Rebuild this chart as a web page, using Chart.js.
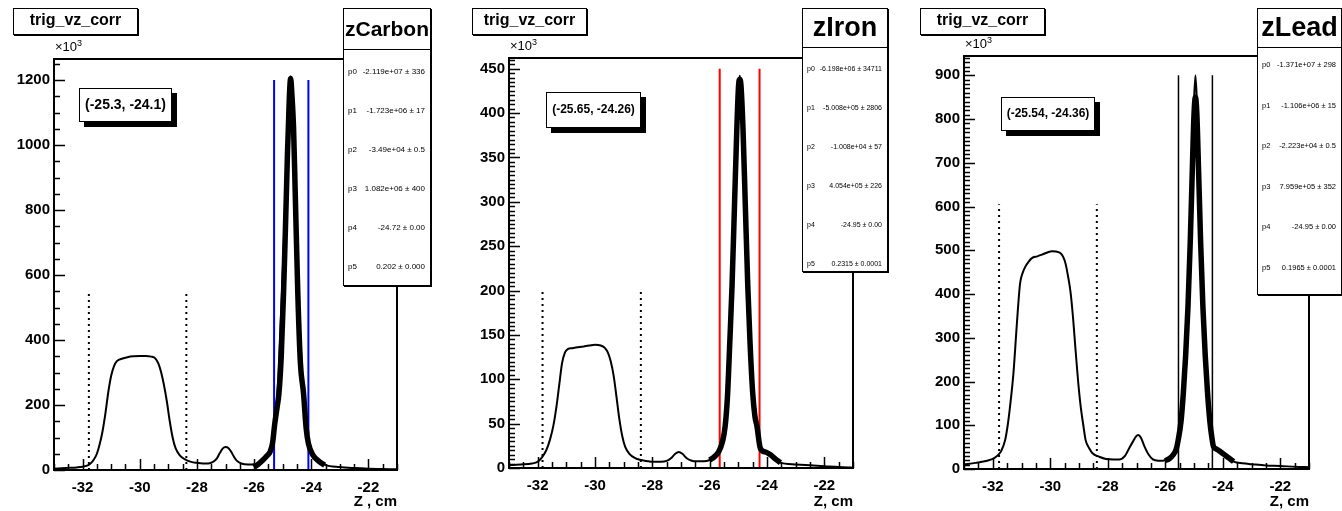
<!DOCTYPE html>
<html>
<head>
<meta charset="utf-8">
<script src="https://cdn.jsdelivr.net/npm/chart.js@4.4.1/dist/chart.umd.min.js"></script>
<style>
  body { margin: 0; width: 1342px; height: 511px; background: #fff; position: relative; overflow: hidden; font-family: "Liberation Sans", Arial, sans-serif; }
  canvas { position: absolute; top: 0; }
  .title-box { position: absolute; border: 1.5px solid #000; box-shadow: 1px 1px 0 #000; background: #fff; font-weight: bold; font-size: 16px; text-align: center; box-sizing: border-box; line-height: 22px; }
  .mult { position: absolute; font-size: 13px; }
  .mult sup { font-size: 9px; }
  .range-box { position: absolute; border: 1.5px solid #000; box-shadow: 5px 5px 0 #000; background: #fff; font-weight: bold; text-align: center; box-sizing: border-box; }
  .stats { position: absolute; border: 1.5px solid #000; box-shadow: 1px 1px 0 #000; background: #fff; box-sizing: border-box; z-index: 2; }
  .stats .name { border-bottom: 1.5px solid #000; font-weight: bold; text-align: center; box-sizing: border-box; }
  .stats .row { position: absolute; left: 4px; right: 5px; display: flex; justify-content: space-between; transform: translateY(-50%); }
</style>
</head>
<body>
<canvas id="carbonChart" width="447" height="511" style="left:0"></canvas>
<canvas id="ironChart" width="450" height="511" style="left:450px"></canvas>
<canvas id="leadChart" width="442" height="511" style="left:900px"></canvas>
<script>
// x axis is shared by all three targets
const xTickValues = [-32, -30, -28, -26, -24, -22];
const paramNames = ['p0', 'p1', 'p2', 'p3', 'p4', 'p5'];

// carbon (counts in units of 10^3)
const carbonHistZ = [-33.0, -32.6, -32.2, -32.0, -31.8, -31.7, -31.6, -31.5, -31.4, -31.3, -31.2, -31.1, -31.0, -30.9, -30.8, -30.6, -30.4, -30.2, -30.0, -29.8, -29.6, -29.45, -29.35, -29.25, -29.15, -29.05, -28.95, -28.85, -28.75, -28.6, -28.4, -28.2, -28.0, -27.8, -27.6, -27.45, -27.3, -27.2, -27.1, -27.0, -26.9, -26.8, -26.7, -26.6, -26.45, -26.2, -26.0, -25.8, -25.6, -25.43, -25.3, -25.15, -25.0, -24.9, -24.8, -24.72, -24.64, -24.55, -24.45, -24.3, -24.15, -24.0, -23.75, -23.5, -23.0, -22.5, -22.0, -21.5, -21.0];
const carbonHistCounts = [4, 6, 8, 10, 15, 22, 33, 50, 80, 120, 175, 240, 290, 320, 335, 343, 348, 350, 351, 351, 349, 343, 328, 300, 260, 210, 150, 100, 68, 45, 32, 25, 22, 20, 20, 24, 36, 52, 66, 71, 68, 56, 40, 28, 20, 17, 18, 24, 36, 56, 110, 290, 600, 850, 1100, 1212, 1100, 860, 560, 270, 120, 55, 28, 15, 9, 6, 4, 3, 2];
const carbonFitZ = [-26.0, -25.85, -25.7, -25.55, -25.43, -25.35, -25.28, -25.2, -25.13, -25.05, -24.97, -24.92, -24.87, -24.83, -24.8, -24.76, -24.72, -24.68, -24.62, -24.56, -24.47, -24.38, -24.27, -24.18, -24.1, -23.94, -23.75, -23.53];
const carbonFitCounts = [8, 18, 30, 44, 58, 85, 140, 190, 236, 350, 543, 690, 851, 980, 1056, 1160, 1205, 1160, 1056, 851, 543, 330, 236, 130, 82, 46, 28, 15];
const carbonWindow = [-25.3, -24.1];
const carbonWindowTop = 1200;
const carbonCuts = [-31.78, -28.37];
const carbonCutTop = 545;
const carbonYTicks = [0, 200, 400, 600, 800, 1000, 1200];
const carbonParams = ['-2.119e+07 \u00b1 336', '-1.723e+06 \u00b1 17', '-3.49e+04 \u00b1 0.5', '1.082e+06 \u00b1 400', '-24.72 \u00b1 0.00', '0.202 \u00b1 0.000'];

// iron
const ironHistZ = [-33.0, -32.6, -32.2, -32.0, -31.85, -31.7, -31.57, -31.45, -31.35, -31.25, -31.15, -31.05, -30.95, -30.8, -30.6, -30.4, -30.2, -30.0, -29.8, -29.65, -29.55, -29.45, -29.35, -29.25, -29.15, -29.05, -28.95, -28.8, -28.6, -28.4, -28.2, -28.0, -27.7, -27.5, -27.35, -27.2, -27.08, -26.95, -26.8, -26.65, -26.45, -26.2, -26.0, -25.85, -25.7, -25.55, -25.4, -25.25, -25.1, -25.0, -24.95, -24.9, -24.8, -24.65, -24.5, -24.35, -24.2, -24.0, -23.75, -23.55, -23.0, -22.5, -22.0, -21.5, -21.0];
const ironHistCounts = [3, 4, 5, 7, 12, 20, 32, 48, 68, 93, 118, 130, 134, 135, 136, 137, 138, 139, 138, 135, 130, 120, 104, 80, 55, 36, 24, 16, 11, 9, 8, 7, 7, 8, 11, 16, 18, 16, 11, 8.5, 7.5, 7.5, 9, 12, 17, 28, 60, 160, 330, 425, 442, 425, 330, 170, 80, 47, 22, 17, 11, 6, 4, 3, 2, 1, 0.5];
const ironFitZ = [-26.0, -25.86, -25.69, -25.55, -25.46, -25.38, -25.3, -25.22, -25.13, -25.05, -24.99, -24.95, -24.91, -24.84, -24.76, -24.67, -24.59, -24.5, -24.42, -24.35, -24.23, -24.05, -23.88, -23.7, -23.53];
const ironFitCounts = [9, 12, 18, 30, 47, 80, 140, 205, 300, 385, 432, 438, 432, 385, 300, 205, 140, 85, 58, 47, 22, 18, 15, 10, 6];
const ironWindow = [-25.65, -24.26];
const ironWindowTop = 450;
const ironCuts = [-31.83, -28.4];
const ironCutTop = 200;
const ironYTicks = [0, 50, 100, 150, 200, 250, 300, 350, 400, 450];
const ironParams = ['-6.198e+06 \u00b1 34711', '-5.008e+05 \u00b1 2806', '-1.008e+04 \u00b1 57', '4.054e+05 \u00b1 226', '-24.95 \u00b1 0.00', '0.2315 \u00b1 0.0001'];

// lead
const leadHistZ = [-33.0, -32.6, -32.2, -31.95, -31.8, -31.7, -31.57, -31.48, -31.4, -31.28, -31.16, -31.05, -30.95, -30.87, -30.75, -30.64, -30.45, -30.29, -30.1, -29.94, -29.8, -29.64, -29.55, -29.47, -29.38, -29.29, -29.2, -29.12, -29.03, -28.94, -28.85, -28.77, -28.65, -28.53, -28.3, -28.06, -27.8, -27.6, -27.4, -27.25, -27.13, -27.02, -26.94, -26.85, -26.72, -26.58, -26.43, -26.25, -26.08, -25.9, -25.73, -25.55, -25.4, -25.25, -25.1, -25.0, -24.95, -24.9, -24.8, -24.65, -24.5, -24.32, -24.09, -23.85, -23.62, -23.3, -23.0, -22.5, -22.0, -21.5, -21.0];
const leadHistCounts = [10, 14, 19, 25, 33, 42, 66, 100, 142, 219, 333, 424, 450, 462, 474, 482, 486, 490, 495, 498, 497, 493, 485, 470, 440, 402, 340, 272, 200, 142, 100, 66, 48, 36, 28, 23, 22, 22, 30, 48, 62, 74, 78, 72, 51, 33, 22, 19, 19, 24, 32, 62, 140, 310, 600, 840, 900, 840, 600, 280, 130, 51, 40, 28, 17, 13, 11, 8, 7, 5, 4];
const leadFitZ = [-26.0, -25.85, -25.73, -25.62, -25.55, -25.45, -25.37, -25.29, -25.21, -25.13, -25.06, -25.0, -24.95, -24.9, -24.84, -24.77, -24.69, -24.61, -24.53, -24.45, -24.37, -24.32, -24.2, -24.09, -23.85, -23.62];
const leadFitCounts = [19, 24, 32, 45, 66, 110, 175, 260, 370, 520, 680, 810, 850, 810, 680, 520, 370, 260, 175, 110, 68, 51, 45, 40, 28, 17];
const leadWindow = [-25.54, -24.36];
const leadWindowTop = 900;
const leadCuts = [-31.78, -28.38];
const leadCutTop = 605;
const leadYTicks = [0, 100, 200, 300, 400, 500, 600, 700, 800, 900];
const leadParams = ['-1.371e+07 \u00b1 298', '-1.106e+06 \u00b1 15', '-2.223e+04 \u00b1 0.5', '7.959e+05 \u00b1 352', '-24.95 \u00b1 0.00', '0.1965 \u00b1 0.0001'];

const toPoints = (xs, ys) => xs.map((x, i) => ({ x, y: ys[i] }));
const verticalLine = (z, top) => [{ x: z, y: 0 }, { x: z, y: top }];

// ROOT-like frame: box around the plot and ticks pointing inwards
const rootFrame = {
    id: 'rootFrame',
    afterDatasetsDraw(chart, args, opts) {
        const { ctx, chartArea: a, scales } = chart;
        ctx.save();
        ctx.strokeStyle = '#000';
        ctx.lineWidth = 1.5;
        ctx.beginPath();
        for (let v = scales.x.min; v <= scales.x.max + 1e-9; v += opts.xMinor) {
            const px = Math.round(scales.x.getPixelForValue(v)) + 0.5;
            const major = Math.abs(v / opts.xMajor - Math.round(v / opts.xMajor)) < 1e-6;
            ctx.moveTo(px, a.bottom);
            ctx.lineTo(px, a.bottom - (major ? 11 : 6));
        }
        for (let v = 0; v <= scales.y.max + 1e-9; v += opts.yMinor) {
            const py = Math.round(scales.y.getPixelForValue(v)) + 0.5;
            const major = Math.abs(v / opts.yMajor - Math.round(v / opts.yMajor)) < 1e-6;
            ctx.moveTo(a.left, py);
            ctx.lineTo(a.left + (major ? 11 : 6), py);
        }
        ctx.stroke();
        ctx.lineWidth = 2;
        ctx.strokeRect(a.left, a.top, a.right - a.left, a.bottom - a.top);
        ctx.restore();
    }
};

const axisFont = { family: 'Liberation Sans', size: 15, weight: 'bold' };

const makeChart = (canvasId, p) => new Chart(document.getElementById(canvasId), {
    type: 'line',
    data: {
        datasets: [
            { data: verticalLine(p.cuts[0], p.cutTop), borderColor: '#000', borderWidth: 2, borderDash: [2, 4] },
            { data: verticalLine(p.cuts[1], p.cutTop), borderColor: '#000', borderWidth: 2, borderDash: [2, 4] },
            { data: toPoints(p.histZ, p.histCounts), borderColor: '#000', borderWidth: 2, cubicInterpolationMode: 'monotone' },
            { data: toPoints(p.fitZ, p.fitCounts), borderColor: '#000', borderWidth: 5.5, cubicInterpolationMode: 'monotone' },
            { data: verticalLine(p.window[0], p.windowTop), borderColor: p.windowColor, borderWidth: p.windowWidth },
            { data: verticalLine(p.window[1], p.windowTop), borderColor: p.windowColor, borderWidth: p.windowWidth },
        ],
    },
    options: {
        responsive: false,
        animation: false,
        parsing: false,
        elements: { point: { radius: 0 }, line: { fill: false, borderCapStyle: 'butt' } },
        layout: { padding: { top: p.top, right: p.right, left: 0, bottom: 0 } },
        plugins: { legend: { display: false }, tooltip: { enabled: false }, rootFrame: p.frame },
        scales: {
            x: {
                type: 'linear',
                min: -33,
                max: -21,
                afterBuildTicks: (scale) => { scale.ticks = xTickValues.map((value) => ({ value })); },
                afterFit: (scale) => { scale.height = p.xHeight; },
                grid: { display: false, drawTicks: false },
                border: { display: false },
                ticks: { autoSkip: false, maxRotation: 0, padding: 9, color: '#000', font: axisFont, callback: (v) => String(v) },
                title: { display: true, text: p.xTitle, align: 'end', color: '#000', padding: { top: 0, bottom: 0 }, font: axisFont },
            },
            y: {
                type: 'linear',
                min: 0,
                max: p.yMax,
                afterBuildTicks: (scale) => { scale.ticks = p.yTicks.map((value) => ({ value })); },
                afterFit: (scale) => { scale.width = p.yWidth; },
                grid: { display: false, drawTicks: false },
                border: { display: false },
                ticks: { autoSkip: false, padding: 4, color: '#000', font: axisFont, callback: (v) => String(v) },
            },
        },
    },
    plugins: [rootFrame],
});

const panels = [
    {
        canvas: 'carbonChart', histZ: carbonHistZ, histCounts: carbonHistCounts, fitZ: carbonFitZ, fitCounts: carbonFitCounts,
        window: carbonWindow, windowTop: carbonWindowTop, windowColor: '#0000ff', windowWidth: 2, cuts: carbonCuts, cutTop: carbonCutTop,
        yTicks: carbonYTicks, yMax: 1265, top: 59, right: 50, yWidth: 54, xHeight: 41, xTitle: 'Z , cm',
        frame: { xMajor: 2, xMinor: 0.5, yMajor: 200, yMinor: 50 },
        name: 'zCarbon', nameSize: 21, params: carbonParams, paramSize: 8,
        titleBox: [13, 8, 125, 27], mult: [55, 38], range: { text: '(-25.3, -24.1)', box: [79, 88, 93, 34], size: 14 },
        stats: { box: [343, 8, 88, 278], nameH: 41, firstRow: 62, rowGap: 39 },
    },
    {
        canvas: 'ironChart', histZ: ironHistZ, histCounts: ironHistCounts, fitZ: ironFitZ, fitCounts: ironFitCounts,
        window: ironWindow, windowTop: ironWindowTop, windowColor: '#ff0000', windowWidth: 2, cuts: ironCuts, cutTop: ironCutTop,
        yTicks: ironYTicks, yMax: 462, top: 58, right: 47, yWidth: 59, xHeight: 43, xTitle: 'Z, cm',
        frame: { xMajor: 2, xMinor: 0.5, yMajor: 50, yMinor: 5 },
        name: 'zIron', nameSize: 27, params: ironParams, paramSize: 7,
        titleBox: [472, 8, 115, 27], mult: [510, 37], range: { text: '(-25.65, -24.26)', box: [546, 92, 95, 36], size: 12 },
        stats: { box: [802, 8, 86, 264], nameH: 39, firstRow: 59, rowGap: 39 },
    },
    {
        canvas: 'leadChart', histZ: leadHistZ, histCounts: leadHistCounts, fitZ: leadFitZ, fitCounts: leadFitCounts,
        window: leadWindow, windowTop: leadWindowTop, windowColor: '#000', windowWidth: 1.5, cuts: leadCuts, cutTop: leadCutTop,
        yTicks: leadYTicks, yMax: 944, top: 56, right: 33, yWidth: 64, xHeight: 42, xTitle: 'Z, cm',
        frame: { xMajor: 2, xMinor: 0.5, yMajor: 100, yMinor: 10 },
        name: 'zLead', nameSize: 27, params: leadParams, paramSize: 7.5,
        titleBox: [920, 8, 125, 27], mult: [965, 35], range: { text: '(-25.54, -24.36)', box: [1001, 97, 94, 34], size: 12 },
        stats: { box: [1257, 8, 85, 287], nameH: 39, firstRow: 55, rowGap: 40.5 },
    },
];

const place = (el, [left, top, width, height]) => {
    el.style.left = left + 'px';
    el.style.top = top + 'px';
    if (width !== undefined) el.style.width = width + 'px';
    if (height !== undefined) el.style.height = height + 'px';
    document.body.appendChild(el);
    return el;
};

panels.forEach((p) => {
    makeChart(p.canvas, p);

    const title = place(document.createElement('div'), p.titleBox);
    title.className = 'title-box';
    title.textContent = 'trig_vz_corr';

    const mult = place(document.createElement('div'), p.mult);
    mult.className = 'mult';
    mult.innerHTML = '\u00d710<sup>3</sup>';

    const range = place(document.createElement('div'), p.range.box);
    range.className = 'range-box';
    range.style.fontSize = p.range.size + 'px';
    range.style.lineHeight = (p.range.box[3] - 3) + 'px';
    range.textContent = p.range.text;

    const stats = place(document.createElement('div'), p.stats.box);
    stats.className = 'stats';
    const name = document.createElement('div');
    name.className = 'name';
    name.style.height = p.stats.nameH + 'px';
    name.style.lineHeight = (p.stats.nameH - 2) + 'px';
    name.style.fontSize = p.nameSize + 'px';
    name.textContent = p.name;
    stats.appendChild(name);
    paramNames.forEach((param, i) => {
        const row = document.createElement('div');
        row.className = 'row';
        row.style.top = (p.stats.firstRow + i * p.stats.rowGap) + 'px';
        row.style.fontSize = p.paramSize + 'px';
        row.innerHTML = `<span>${param}</span><span>${p.params[i]}</span>`;
        stats.appendChild(row);
    });
});
</script>
</body>
</html>
